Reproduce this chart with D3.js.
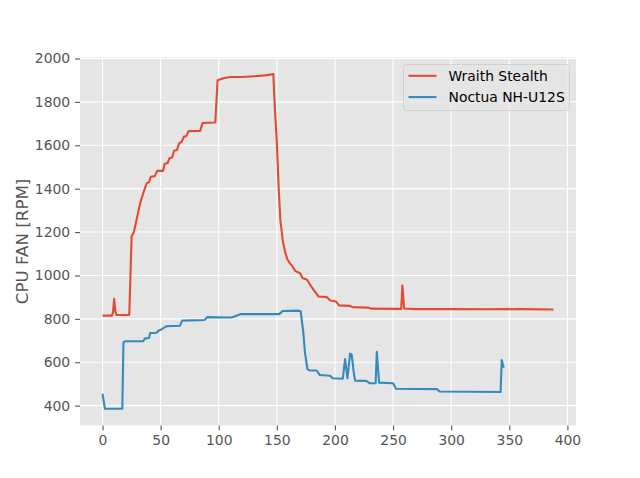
<!DOCTYPE html>
<html>
<head>
<meta charset="utf-8">
<script src="https://cdn.jsdelivr.net/npm/d3@7"></script>
<style>
  body { margin: 0; background: #fff; }
  svg { font-family: "DejaVu Sans", sans-serif; }
</style>
</head>
<body>
<svg id="chart" width="640" height="478"></svg>
<script>
// Wraith Stealth readings (seconds, RPM)
const wraithX = [0, 8, 9, 10, 11, 12, 23, 24, 25, 27, 29, 31, 33, 36, 38, 40, 41.5, 45, 47, 52,
  53.5, 56, 57.5, 60, 61.5, 64, 66, 68, 70, 72, 74, 84, 86, 97, 99, 102, 105, 110, 120, 130,
  140, 147, 148, 150, 151.5, 153, 155, 157, 159, 161, 163, 166, 170, 172, 176, 178.5, 181.5, 186, 193, 196,
  201, 203.5, 213, 215, 229, 231, 257, 258, 259.5, 270, 300, 330, 360, 388];
const wraithY = [815, 815, 830, 892, 835, 818, 818, 1000, 1180, 1200, 1250, 1300, 1345, 1395, 1425, 1430, 1455, 1458, 1482, 1482,
  1515, 1518, 1540, 1545, 1575, 1578, 1610, 1615, 1640, 1642, 1665, 1666, 1703, 1705, 1900, 1905, 1910, 1915, 1915, 1918,
  1922, 1928, 1800, 1610, 1410, 1256, 1164, 1110, 1075, 1058, 1045, 1020, 1010, 988, 980, 958, 935, 903, 900, 885,
  880, 862, 860, 854, 852, 847, 846, 955, 848, 845, 845, 844, 845, 843];

// Noctua NH-U12S readings (seconds, RPM)
const noctuaX = [0, 2, 17, 18, 19.5, 35, 36.5, 40, 41, 46.5, 48, 51, 53, 55, 66.5, 68.5, 88, 90, 111, 114,
  119, 152, 155, 168, 170.5, 172.8, 174.2, 176.3, 178, 184.3, 187, 195.8, 198, 206.7, 208.7, 210.7, 213, 214.4, 216, 217.3,
  227, 230, 235, 236, 238, 250, 252.5, 288, 290, 342.5, 343.5, 344.5, 345.2];
const noctuaY = [455, 386, 386, 692, 697, 697, 710, 712, 735, 736, 745, 752, 760, 766, 768, 792, 795, 808, 806, 812,
  822, 822, 836, 838, 835, 735, 643, 569, 562, 562, 541, 538, 526, 524, 615, 526, 640, 635, 560, 515,
  514, 503, 503, 648, 506, 503, 478, 476, 465, 463, 610, 590, 575];

const seriesNames = ["Wraith Stealth", "Noctua NH-U12S"];
const seriesColors = ["#E24A33", "#348ABD"];
const xTicks = [0, 50, 100, 150, 200, 250, 300, 350, 400];
const yTicks = [400, 600, 800, 1000, 1200, 1400, 1600, 1800, 2000];

const margin = {top: 57.4, right: 64, bottom: 52.6, left: 80};
const svg = d3.select("#chart");
const width = 640 - margin.left - margin.right;
const height = 478 - margin.top - margin.bottom;

const x = d3.scaleLinear().domain([-19.4, 407.4]).range([0, width]);
const y = d3.scaleLinear().domain([309, 2005]).range([height, 0]);

const g = svg.append("g").attr("transform", `translate(${margin.left},${margin.top})`);

g.append("rect")
  .attr("width", width)
  .attr("height", height)
  .attr("fill", "#E5E5E5");

// grid
g.append("g")
  .selectAll("line")
  .data(xTicks)
  .join("line")
  .attr("x1", d => x(d)).attr("x2", d => x(d))
  .attr("y1", 0).attr("y2", height)
  .attr("stroke", "#fff").attr("stroke-width", 1.1);

g.append("g")
  .selectAll("line")
  .data(yTicks)
  .join("line")
  .attr("y1", d => y(d)).attr("y2", d => y(d))
  .attr("x1", 0).attr("x2", width)
  .attr("stroke", "#fff").attr("stroke-width", 1.1);

// axes
const xAxis = g.append("g")
  .attr("transform", `translate(0,${height})`)
  .call(d3.axisBottom(x).tickValues(xTicks).tickFormat(d3.format("d")).tickSize(4.9).tickPadding(4.9));
const yAxis = g.append("g")
  .call(d3.axisLeft(y).tickValues(yTicks).tickFormat(d3.format("d")).tickSize(4.9).tickPadding(4.9));

[xAxis, yAxis].forEach(a => {
  a.select(".domain").remove();
  a.selectAll("line").attr("stroke", "#555555").attr("stroke-width", 1.1);
  a.selectAll("text")
    .attr("fill", "#555555")
    .attr("font-size", 13.9)
    .attr("font-family", "DejaVu Sans");
});

g.append("text")
  .attr("transform", "rotate(-90)")
  .attr("x", -height / 2)
  .attr("y", -52)
  .attr("text-anchor", "middle")
  .attr("fill", "#555555")
  .attr("font-size", 16.7)
  .text("CPU FAN [RPM]");

// lines
const line = d3.line().x(d => x(d[0])).y(d => y(d[1]));
const series = [
  d3.zip(wraithX, wraithY),
  d3.zip(noctuaX, noctuaY)
];

g.append("g")
  .selectAll("path")
  .data(series)
  .join("path")
  .attr("d", line)
  .attr("fill", "none")
  .attr("stroke", (d, i) => seriesColors[i])
  .attr("stroke-width", 2.1)
  .attr("stroke-linejoin", "round");

// legend
const legend = g.append("g").attr("transform", `translate(${403.5 - margin.left},${64.5 - margin.top})`);
legend.append("rect")
  .attr("width", 166)
  .attr("height", 46)
  .attr("rx", 3)
  .attr("fill", "#E5E5E5")
  .attr("fill-opacity", 0.8)
  .attr("stroke", "#CCCCCC")
  .attr("stroke-opacity", 0.8);

const items = legend.selectAll("g.item")
  .data(seriesNames)
  .join("g")
  .attr("class", "item")
  .attr("transform", (d, i) => `translate(0,${11.3 + i * 21.3})`);

items.append("line")
  .attr("x1", 5).attr("x2", 33)
  .attr("stroke", (d, i) => seriesColors[i])
  .attr("stroke-width", 2.1);

items.append("text")
  .attr("x", 45)
  .attr("y", 5)
  .attr("font-size", 13.9)
  .attr("fill", "#000")
  .text(d => d);
</script>
</body>
</html>
